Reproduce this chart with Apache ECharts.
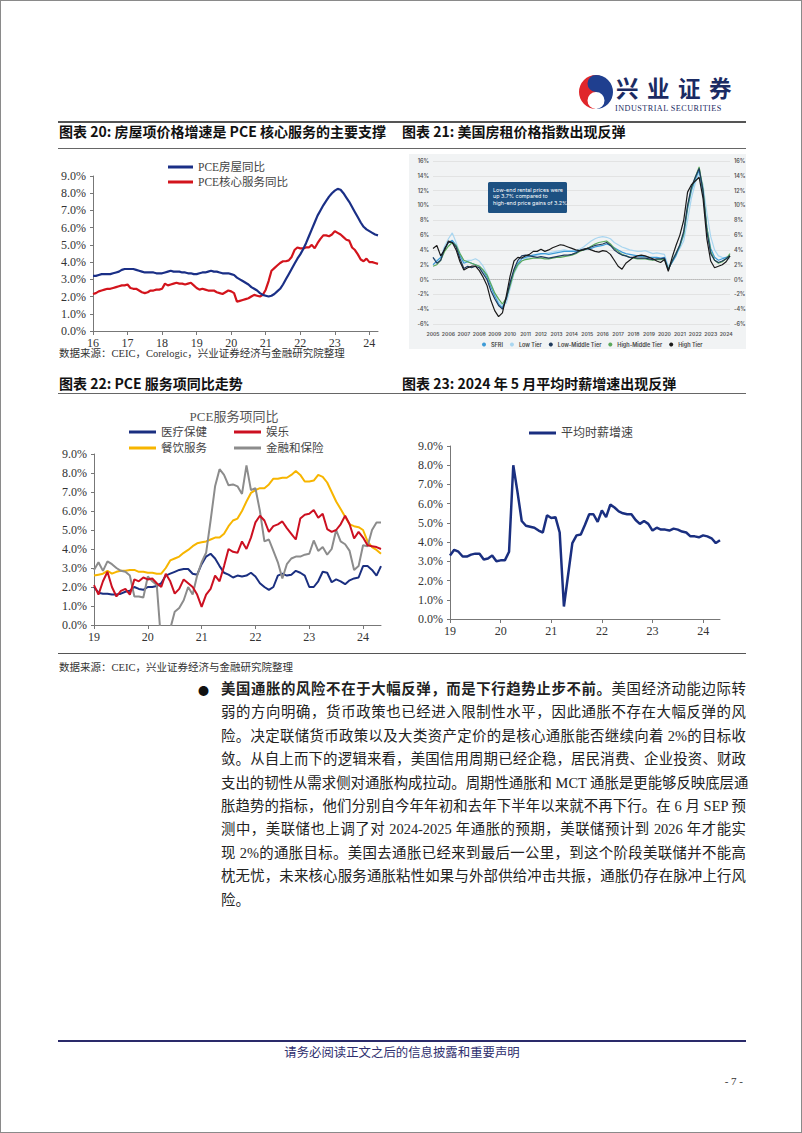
<!DOCTYPE html>
<html><head><meta charset="utf-8">
<script src="https://cdn.jsdelivr.net/npm/echarts@6/dist/echarts.min.js"></script>
<style>
html,body{margin:0;padding:0;background:#fff;}
#page{position:relative;width:802px;height:1133px;box-sizing:border-box;border:1px solid #8a8a8a;overflow:hidden;font-family:'Noto Sans CJK SC',sans-serif;background:#fff;}
.t{position:absolute;white-space:nowrap;}
.hl{position:absolute;left:57px;width:688px;}
#chart{position:absolute;left:0;top:0;width:802px;height:1133px;}
.title{font-size:14px;font-weight:700;color:#111;line-height:20px;}
.src{font-size:10.5px;color:#333;line-height:14px;font-family:'Liberation Serif','Noto Sans CJK SC',serif;}
.para{position:absolute;left:220px;top:677px;width:525px;font-size:14.4px;color:#222;font-family:'Liberation Serif','Noto Sans CJK SC',serif;}
.para div{height:23.4px;line-height:23.4px;text-align:justify;text-align-last:justify;white-space:nowrap;overflow:visible;}
.para div.last{text-align-last:left;}
</style>
</head><body>
<div id="page">
  <svg class="t" style="left:577px;top:72px" width="36" height="38" viewBox="0 0 36 38">
    <path d="M18 2 A17 17 0 0 0 18 36 A8.5 8.5 0 0 1 18 19 A8.5 8.5 0 0 0 18 2Z" fill="#e0262b"/>
    <path d="M18 2 A17 17 0 0 1 18 36 A8.5 8.5 0 0 0 18 19 A8.5 8.5 0 0 1 18 2Z" fill="#1f3f8f"/>
  </svg>
  <div class="t" style="left:615px;top:74px;font-size:22.5px;font-weight:700;color:#1b2b63;letter-spacing:8.5px;line-height:24px;height:24px;">兴业证券</div>
  <div class="t" style="left:614px;top:103px;font-size:8.2px;color:#1b2b63;font-family:'Liberation Serif',serif;letter-spacing:0.45px;line-height:9px;height:9px;">INDUSTRIAL SECURITIES</div>

  <div class="hl" style="top:120px;height:2px;background:#555;"></div>
  <div class="t title" style="left:58px;top:120px;">图表 20: 房屋项价格增速是 PCE 核心服务的主要支撑</div>
  <div class="t title" style="left:401px;top:120px;">图表 21: 美国房租价格指数出现反弹</div>
  <div class="hl" style="top:147px;height:1px;background:#666;"></div>

  <div class="t src" style="left:58px;top:346px;">数据来源：CEIC，Corelogic，兴业证券经济与金融研究院整理</div>

  <div class="t title" style="left:58px;top:372px;">图表 22: PCE 服务项同比走势</div>
  <div class="t title" style="left:401px;top:372px;">图表 23: 2024 年 5 月平均时薪增速出现反弹</div>
  <div class="hl" style="top:392px;height:1px;background:#666;"></div>

  <div class="hl" style="top:652px;height:1px;background:#555;"></div>
  <div class="t src" style="left:58px;top:660px;">数据来源：CEIC，兴业证券经济与金融研究院整理</div>

  <div class="t" style="left:197px;top:679px;font-size:11px;line-height:20px;color:#111;">●</div>
  <div class="para">
    <div><b>美国通胀的风险不在于大幅反弹，而是下行趋势止步不前。</b>美国经济动能边际转</div>
    <div>弱的方向明确，货币政策也已经进入限制性水平，因此通胀不存在大幅反弹的风</div>
    <div>险。决定联储货币政策以及大类资产定价的是核心通胀能否继续向着 2%的目标收</div>
    <div>敛。从自上而下的逻辑来看，美国信用周期已经企稳，居民消费、企业投资、财政</div>
    <div>支出的韧性从需求侧对通胀构成拉动。周期性通胀和 MCT 通胀是更能够反映底层通</div>
    <div>胀趋势的指标，他们分别自今年年初和去年下半年以来就不再下行。在 6 月 SEP 预</div>
    <div>测中，美联储也上调了对 2024-2025 年通胀的预期，美联储预计到 2026 年才能实</div>
    <div>现 2%的通胀目标。美国去通胀已经来到最后一公里，到这个阶段美联储并不能高</div>
    <div>枕无忧，未来核心服务通胀粘性如果与外部供给冲击共振，通胀仍存在脉冲上行风</div>
    <div class="last">险。</div>
  </div>

  <div class="hl" style="top:1039px;height:2px;background:#2a2a6a;"></div>
  <div class="t" style="left:0;width:802px;text-align:center;top:1044px;font-size:12.4px;line-height:16px;color:#2e2e6e;font-family:'Liberation Serif','Noto Sans CJK SC',serif;">请务必阅读正文之后的信息披露和重要声明</div>
  <div class="t" style="left:700px;width:42px;text-align:right;top:1073px;font-size:11px;line-height:14px;color:#333;font-family:'Liberation Serif',serif;">- 7 -</div>

  <div id="chart"></div>
</div>
<script>
// ---------- Chart 20 data (monthly, Jan 2016 - Apr 2024) ----------
const c20Years = ['16','17','18','19','20','21','22','23','24'];
const c20Housing = [
 3.2,3.2,3.25,3.3,3.3,3.3,3.3,3.35,3.4,3.45,3.55,3.6,
 3.6,3.6,3.6,3.55,3.5,3.45,3.4,3.4,3.4,3.4,3.35,3.35,
 3.35,3.4,3.45,3.5,3.45,3.45,3.45,3.4,3.4,3.35,3.35,3.3,
 3.3,3.35,3.4,3.4,3.45,3.5,3.45,3.45,3.4,3.35,3.35,3.35,
 3.3,3.25,3.1,3.0,2.9,2.8,2.7,2.55,2.45,2.35,2.2,2.1,
 2.05,2.0,2.05,2.15,2.3,2.45,2.7,3.0,3.3,3.6,3.9,4.2,
 4.45,4.75,5.1,5.5,5.9,6.3,6.7,7.0,7.3,7.55,7.8,8.0,
 8.15,8.25,8.2,8.0,7.75,7.5,7.2,6.9,6.6,6.3,6.05,5.9,
 5.8,5.7,5.6,5.55];
const c20Core = [
 2.15,2.2,2.3,2.35,2.4,2.45,2.45,2.5,2.55,2.6,2.65,2.65,
 2.7,2.5,2.45,2.45,2.35,2.25,2.2,2.25,2.35,2.35,2.4,2.4,
 2.45,2.75,2.65,2.7,2.75,2.8,2.75,2.75,2.7,2.75,2.8,2.65,
 2.5,2.4,2.45,2.4,2.35,2.35,2.35,2.25,2.2,2.15,2.25,2.35,
 2.3,2.2,1.7,1.75,1.8,1.85,1.9,2.0,2.1,2.05,2.0,2.1,
 2.4,2.9,3.5,3.65,3.8,3.95,4.05,4.05,4.1,4.3,4.7,4.85,
 4.8,4.8,4.85,4.85,5.0,4.8,5.1,5.35,5.55,5.55,5.5,5.6,
 5.8,5.7,5.6,5.45,5.3,5.25,4.85,4.7,4.45,4.15,4.05,4.2,
 4.0,4.0,3.95,3.9];

// ---------- Chart 21 data (quarterly, 2005Q1 - 2024Q2) ----------
const c21Years = ['2005','2006','2007','2008','2009','2010','2011','2012','2013','2014','2015','2016','2017','2018','2019','2020','2021','2022','2023','2024'];
const c21SFRI = [
 2.0,2.5,3.0,4.0, 5.0,5.3,4.6,3.2, 2.2,2.4,2.2,2.0, 1.8,1.2,0.3,-1.0, -2.2,-3.3,-3.8,-2.5,
 -0.5,1.2,2.2,2.8, 3.0,3.2,3.3,3.4, 3.5,3.5,3.4,3.5, 3.6,3.7,3.8,3.8, 3.8,3.8,3.9,4.0,
 4.1,4.2,4.4,4.5, 4.6,4.8,4.6,4.3, 4.0,3.7,3.5,3.4, 3.3,3.2,3.1,3.1, 3.0,3.0,3.0,2.9,
 3.0,1.5,2.3,3.2, 4.5,6.0,9.5,12.0, 13.5,14.8,11.5,7.0, 4.2,3.0,2.6,2.8, 3.0,3.2];
const c21Low = [
 3.0,2.5,3.0,4.5, 5.5,6.3,5.0,3.5, 2.4,2.6,2.6,2.8, 2.5,1.8,0.8,-0.5, -1.8,-3.0,-3.5,-3.2,
 -1.2,0.8,1.8,2.5, 2.8,3.0,3.2,3.3, 3.4,3.5,3.6,3.7, 3.8,3.9,4.0,3.9, 3.9,3.9,4.1,4.4,
 4.8,5.2,5.5,5.7, 5.8,5.7,5.5,5.0, 4.7,4.4,4.2,4.0, 3.9,3.8,3.8,3.9, 3.7,3.5,3.6,3.5,
 3.4,1.8,2.6,3.6, 4.2,5.2,8.0,11.0, 13.0,14.5,12.8,9.0, 5.8,4.0,3.2,3.0, 2.9,2.8];
const c21LowMid = [
 3.0,2.2,2.6,4.2, 5.0,5.0,4.4,2.8, 1.5,1.8,1.6,1.8, 1.6,0.8,0.0,-1.5, -2.6,-3.5,-4.0,-2.6,
 -0.4,1.4,2.6,3.2, 3.3,3.2,3.1,3.0, 3.1,3.0,2.9,3.0, 3.1,3.2,3.3,3.3, 3.4,3.6,3.9,4.1,
 4.2,4.4,4.6,4.7, 4.8,5.0,4.6,4.0, 3.6,3.3,3.2,3.0, 3.0,2.9,2.9,2.9, 2.8,2.7,2.8,2.8,
 2.9,1.3,2.5,3.5, 4.7,6.5,10.0,12.5, 13.8,15.0,12.0,6.5, 3.5,2.6,2.3,2.5, 2.8,3.2];
const c21HighMid = [
 1.8,2.0,2.6,3.8, 4.5,5.0,4.6,3.5, 2.6,2.4,2.2,2.0, 1.8,1.3,0.6,-0.6, -1.8,-2.6,-3.3,-2.5,
 -0.8,1.0,2.0,2.5, 2.7,2.8,2.9,2.9, 2.9,2.8,2.8,2.9, 3.0,3.0,3.1,3.2, 3.3,3.5,3.8,4.0,
 4.2,4.5,4.8,5.0, 5.1,5.2,4.8,4.2, 3.8,3.4,3.2,3.0, 2.9,2.8,2.8,2.8, 2.7,2.6,2.7,2.7,
 2.8,1.4,2.5,3.5, 4.6,6.2,9.8,12.3, 13.8,15.2,12.2,7.0, 3.8,2.6,2.2,2.4, 2.8,3.5];
const c21High = [
 4.2,4.6,3.2,4.0, 5.2,5.0,4.0,2.4, 1.3,1.6,1.8,1.8, 1.2,0.3,-0.8,-2.8, -4.2,-5.0,-4.5,-2.2,
 0.5,2.5,3.0,2.9, 3.2,3.4,3.8,3.8, 4.1,3.8,4.0,4.3, 4.5,4.7,4.6,4.4, 4.2,4.0,3.9,4.0,
 4.2,4.0,3.8,3.7, 3.9,3.8,3.4,2.6, 1.8,1.4,2.2,2.6, 3.0,3.2,3.3,3.2, 3.0,2.8,2.5,2.3,
 2.7,1.1,3.0,4.6, 6.0,8.0,11.8,12.8, 13.3,13.8,11.0,5.5, 2.5,1.6,1.8,2.0, 2.4,3.2];
const c21Names = ['SFRI','Low Tier','Low-Middle Tier','High-Middle Tier','High Tier'];

// ---------- Chart 22 data (monthly, Jan 2019 - May 2024) ----------
const c22Years = ['19','20','21','22','23','24'];
const c22Health = [
 2.0,1.7,1.65,1.65,1.6,1.6,1.65,1.75,1.8,2.0,1.9,1.85,
 2.0,2.0,2.05,2.2,2.6,2.7,2.8,2.9,2.95,2.95,2.7,2.65,
 3.2,3.6,3.75,3.5,3.1,2.75,2.65,2.5,2.6,2.55,2.6,2.75,
 2.55,2.2,2.0,1.85,2.0,2.6,2.7,2.6,2.65,2.85,2.75,2.6,
 2.0,2.0,2.3,2.8,2.75,2.25,2.4,2.3,2.15,2.35,2.45,2.5,
 3.1,3.1,2.9,2.6,3.1];
const c22Recreation = [
 2.1,1.6,2.3,2.8,2.0,1.5,1.8,1.9,1.6,2.4,2.3,2.5,
 2.4,2.45,2.2,2.0,2.7,2.3,1.65,1.9,2.4,2.2,2.0,1.6,
 0.95,1.6,1.9,2.6,2.3,3.1,4.0,3.85,3.8,4.4,4.0,4.6,
 5.4,5.75,5.5,4.9,5.2,5.3,5.45,5.1,4.8,4.5,5.6,5.8,
 5.85,6.05,5.65,5.85,5.05,4.9,5.0,5.3,5.75,5.3,4.55,4.9,
 4.6,4.2,4.15,4.1,4.0];
const c22Food = [
 2.6,2.65,2.7,2.85,2.7,2.8,2.85,2.85,2.9,2.9,2.8,2.8,
 2.75,2.75,2.7,2.7,3.0,3.4,3.5,3.6,3.8,3.95,4.15,4.3,
 4.35,4.4,4.5,4.6,4.6,4.8,5.2,5.5,5.6,6.0,6.5,6.95,
 7.1,7.2,7.2,7.4,7.7,7.7,7.75,7.75,7.9,8.1,7.9,7.55,
 7.55,7.6,7.9,7.8,7.5,7.0,6.5,6.1,5.7,5.3,5.2,5.15,
 5.0,4.4,4.1,3.95,3.75];
const c22Finance = [
 2.9,3.3,2.85,3.35,3.2,3.0,2.85,2.8,2.6,1.5,1.5,1.45,
 2.55,2.3,2.1,-1.0,-1.5,-0.2,0.7,0.9,1.3,2.0,1.6,2.6,
 3.3,3.8,5.5,7.3,8.2,7.9,7.35,7.4,7.3,6.9,8.4,7.1,
 7.2,6.0,4.4,4.5,3.9,3.3,2.45,3.2,3.5,3.6,3.6,3.7,
 3.75,4.45,3.9,4.1,3.7,4.0,5.0,4.4,4.25,3.9,2.9,3.1,
 4.2,4.15,5.0,5.4,5.4];

// ---------- Chart 23 data (monthly, Jan 2019 - May 2024) ----------
const c23Years = ['19','20','21','22','23','24'];
const c23Wage = [
 3.3,3.6,3.5,3.25,3.25,3.35,3.4,3.4,3.1,3.15,3.3,3.0,
 3.05,3.05,3.5,8.0,6.6,5.1,4.85,4.8,4.75,4.6,4.5,5.4,
 5.25,5.3,4.5,0.65,2.3,3.95,4.35,4.4,4.9,5.45,5.45,5.05,
 5.65,5.3,5.95,5.8,5.6,5.5,5.45,5.45,5.15,4.95,5.1,4.95,
 4.6,4.75,4.65,4.65,4.6,4.7,4.65,4.55,4.5,4.3,4.3,4.25,
 4.35,4.3,4.2,3.95,4.1];

// ---------- build categories ----------
function monthCats(years, n){ const c=[]; years.forEach(y=>{for(let m=1;m<=12;m++) c.push(y+'-'+m);}); return c.slice(0,n); }
function quarterCats(years, n){ const c=[]; years.forEach(y=>{for(let q=1;q<=4;q++) c.push(y+'-Q'+q);}); return c.slice(0,n); }
const c20Cats = monthCats(c20Years, c20Housing.length);
const c21Cats = quarterCats(c21Years, c21SFRI.length);
const c22Cats = monthCats(c22Years, c22Health.length);
const c23Cats = monthCats(c23Years, c23Wage.length);

const serif = "'Liberation Serif','Noto Sans CJK SC',serif";
const geo = "Inter,'Noto Sans',sans-serif";
const yearOnly = v => v.split('-')[0];
const every12 = i => i % 12 === 0;
const every4 = i => i % 4 === 0;

function catAxis(gi, cats, step){
  return {gridIndex:gi,type:'category',data:cats,boundaryGap:false,
    axisLine:{show:true,lineStyle:{color:'#777',width:1}},
    axisTick:{show:true,interval:step,length:4,inside:false,lineStyle:{color:'#777'}},
    axisLabel:{interval:step,formatter:yearOnly,margin:6,fontFamily:serif,fontSize:12,color:'#333'},
    splitLine:{show:false}};
}
function pctAxis(gi){
  return {gridIndex:gi,type:'value',min:0,max:9,interval:1,
    axisLine:{show:true,lineStyle:{color:'#777',width:1}},
    axisTick:{show:true,length:3,lineStyle:{color:'#777'}},
    splitLine:{show:false},
    axisLabel:{formatter:v=>v.toFixed(1)+'%',fontFamily:serif,fontSize:12,color:'#333',margin:7}};
}
function line(name, xi, yi, data, color, width, z){
  return {name,type:'line',xAxisIndex:xi,yAxisIndex:yi,data,symbol:'none',showSymbol:false,
    lineStyle:{color,width},itemStyle:{color},z:z||2,clip:true,animation:false};
}
function oneLegend(name, left, cy, fontSize){
  return {data:[name],orient:'horizontal',left,top:cy-7,padding:0,icon:'rect',itemWidth:27,itemHeight:3,
    selectedMode:false,textStyle:{fontFamily:serif,fontSize:fontSize||11.5,color:'#444',lineHeight:14}};
}

const navy = '#1a2f86', red = '#d3141c';
const option = {
  animation:false,
  grid:[
    {left:92,top:175,width:285,height:155},
    {left:432,top:160,width:297,height:163},
    {left:93,top:453,width:287,height:171},
    {left:449,top:445,width:270,height:173}
  ],
  xAxis:[
    catAxis(0,c20Cats,every12),
    {gridIndex:1,type:'category',data:c21Cats,boundaryGap:false,
      axisLine:{show:true,lineStyle:{color:'#bbb',type:'dotted'}},axisTick:{show:false},
      axisLabel:{interval:every4,formatter:yearOnly,margin:7,fontFamily:geo,fontSize:5.1,fontWeight:600,color:'#555'},
      splitLine:{show:false}},
    catAxis(2,c22Cats,every12),
    catAxis(3,c23Cats,every12)
  ],
  yAxis:[
    pctAxis(0),
    {gridIndex:1,type:'value',min:-6,max:16,interval:2,position:'left',
      axisLine:{show:false},axisTick:{show:false},
      splitLine:{show:true,lineStyle:{color:'#dedede',width:0.8}},
      axisLabel:{formatter:v=>v+'%',fontFamily:geo,fontSize:5.5,fontWeight:600,color:'#555',margin:4}},
    pctAxis(2),
    pctAxis(3),
    {gridIndex:1,type:'value',min:-6,max:16,interval:2,position:'right',
      axisLine:{show:false},axisTick:{show:false},splitLine:{show:false},
      axisLabel:{formatter:v=>v+'%',fontFamily:geo,fontSize:5.5,fontWeight:600,color:'#555',margin:4}}
  ],
  legend:[
    {data:['PCE房屋同比','PCE核心服务同比'],orient:'vertical',left:167,top:159,padding:0,itemGap:1,
      icon:'rect',itemWidth:25,itemHeight:3,selectedMode:false,
      textStyle:{fontFamily:serif,fontSize:11.5,color:'#444',lineHeight:14}},
    {data:c21Names,orient:'horizontal',left:481,top:340,padding:0,itemGap:7,icon:'circle',itemWidth:4,itemHeight:4,
      selectedMode:false,textStyle:{fontFamily:geo,fontSize:5.5,fontWeight:600,color:'#444',lineHeight:7}},
    oneLegend('医疗保健',128,431),
    oneLegend('娱乐',233,431),
    oneLegend('餐饮服务',128,447),
    oneLegend('金融和保险',233,447),
    oneLegend('平均时薪增速',528,432,12)
  ],
  graphic:[
    {type:'rect',z:-10,silent:true,shape:{x:408,y:153,width:337,height:195},style:{fill:'#f1f3f4'}},
    {type:'rect',z:10,silent:true,shape:{x:487,y:181,width:79,height:31,r:1.5},style:{fill:'#1d5182'}},
    {type:'text',z:11,silent:true,left:492,top:186,style:{text:'Low-end rental prices were\nup 3.7% compared to\nhigh-end price gains of 3.2%.',fill:'#fff',font:'5.4px Inter, sans-serif',lineHeight:6.3}},
    {type:'text',silent:true,x:233,y:415,style:{text:'PCE服务项同比',fill:'#555',font:"13px 'Liberation Serif','Noto Sans CJK SC',serif",textAlign:'center',textVerticalAlign:'middle'}}
  ],
  series:[
    line('PCE房屋同比',0,0,c20Housing,navy,2.2,3),
    line('PCE核心服务同比',0,0,c20Core,red,2.2,2),
    line('Low Tier',1,1,c21Low,'#a9d6f0',1.2),
    line('SFRI',1,1,c21SFRI,'#3d9bd7',1.2),
    line('High-Middle Tier',1,1,c21HighMid,'#5aa85a',1.2),
    line('Low-Middle Tier',1,1,c21LowMid,'#1f3a5c',1.2),
    line('High Tier',1,1,c21High,'#1a1a1a',1.2),
    line('医疗保健',2,2,c22Health,'#1a2f80',2),
    line('餐饮服务',2,2,c22Food,'#f7b500',2),
    line('金融和保险',2,2,c22Finance,'#8c8c8c',2),
    line('娱乐',2,2,c22Recreation,'#cc1021',2),
    line('平均时薪增速',3,3,c23Wage,'#1a2f80',2.5)
  ]
};
const chart = echarts.init(document.getElementById('chart'), null, {renderer:'svg',width:802,height:1133});
chart.setOption(option);
</script>
</body></html>
